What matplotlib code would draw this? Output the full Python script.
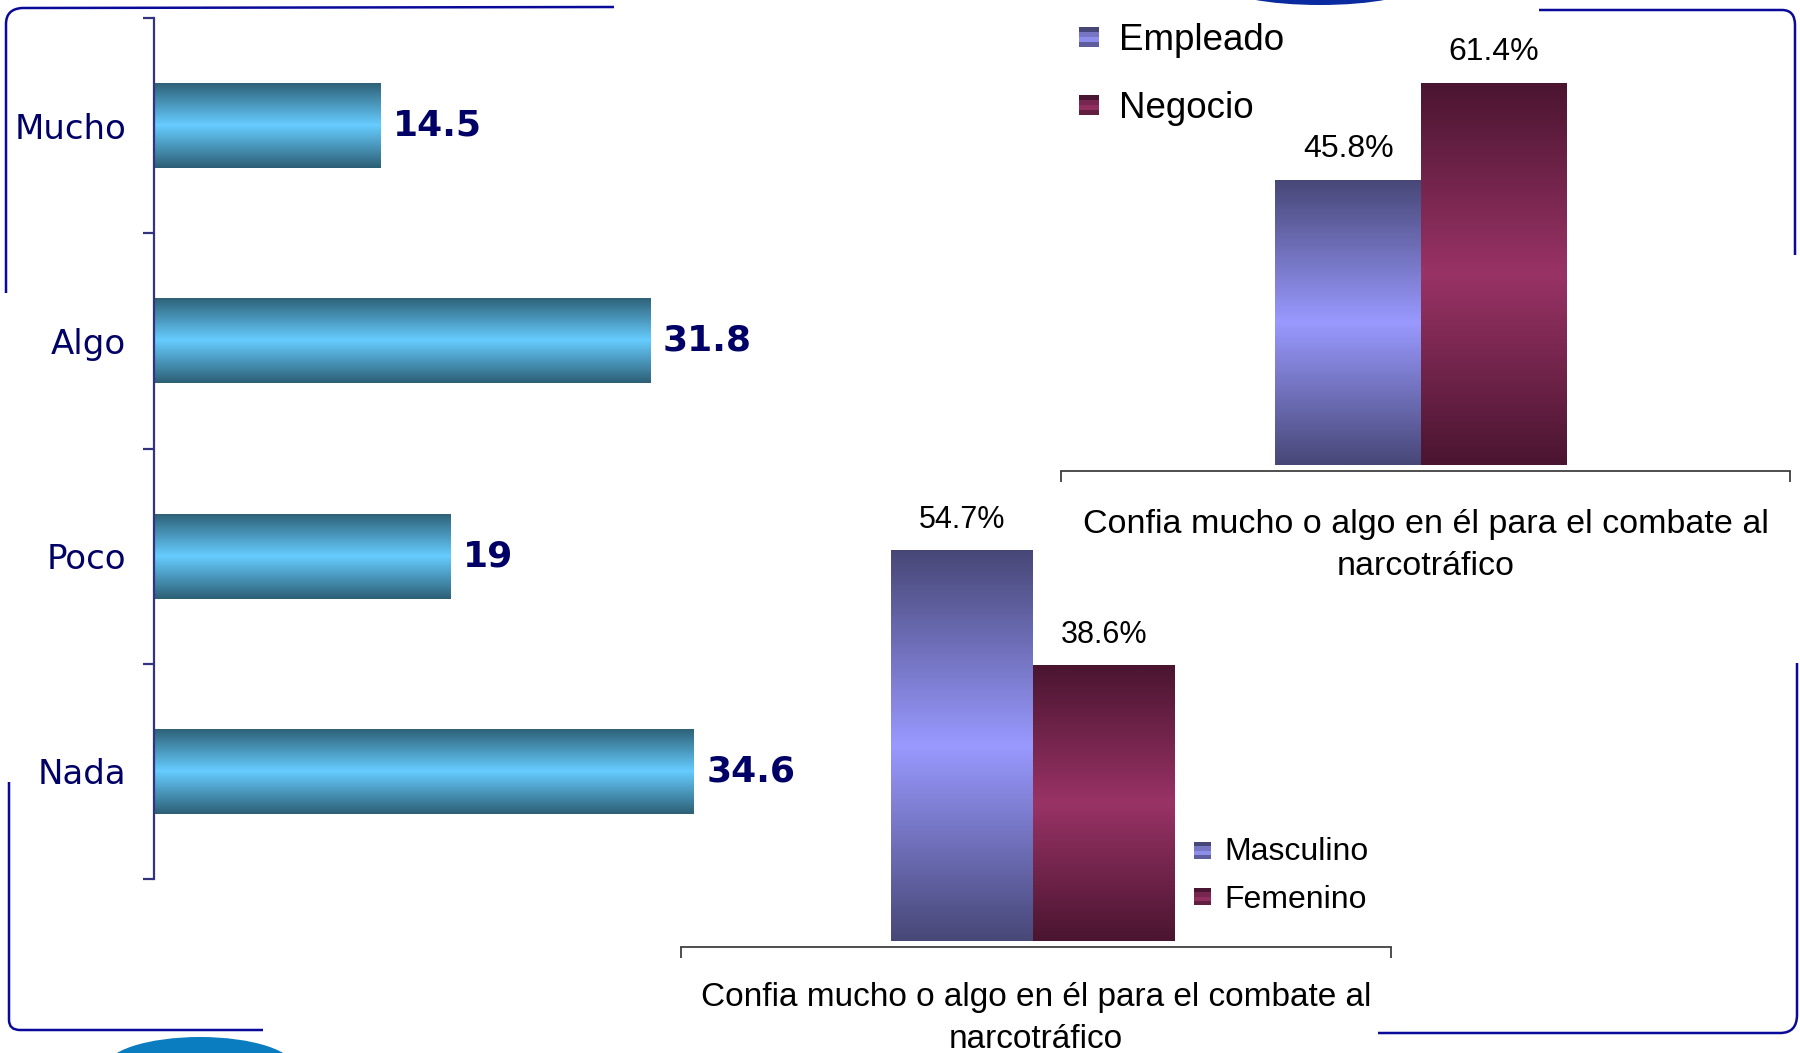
import numpy as np
import matplotlib
matplotlib.use('Agg')
import matplotlib.pyplot as plt
from matplotlib.patches import Rectangle, Ellipse, PathPatch
from matplotlib.path import Path
from matplotlib.colors import to_rgb

# ---------------- data ----------------
conf_cats = ['Mucho', 'Algo', 'Poco', 'Nada']
conf_vals = [14.5, 31.8, 19, 34.6]
conf_labels = ['14.5', '31.8', '19', '34.6']

ocup_series = ['Empleado', 'Negocio']
ocup_vals = [45.8, 61.4]
ocup_labels = ['45.8%', '61.4%']

sexo_series = ['Masculino', 'Femenino']
sexo_vals = [54.7, 38.6]
sexo_labels = ['54.7%', '38.6%']

group_label = 'Confia mucho o algo en él para el combate al\nnarcotráfico'

# ---------------- styles ----------------
NAVY = '#000066'
BLUE_EDGE, BLUE_MID = '#2d5f75', '#66ccff'
PURP_EDGE, PURP_MID = '#474777', '#9999ff'
WINE_EDGE, WINE_MID = '#4a1530', '#993366'
FRAME = '#0a0a9a'
ARIAL = ['Liberation Sans', 'DejaVu Sans']

W, H = 1800, 1053
fig = plt.figure(figsize=(18, 10.53), dpi=100)


def fx(x):
    return x / W


def fy(y):
    return 1 - y / H


def gradient(edge, mid, n=256):
    t = np.linspace(0, 1, n)
    w = 1 - np.abs(2 * t - 1)
    e = np.array(to_rgb(edge))
    m = np.array(to_rgb(mid))
    arr = e[None, :] * (1 - w[:, None]) + m[None, :] * w[:, None]
    return arr[:, None, :]


def fill_gradient(ax, bars, cols):
    for b, (edge, mid) in zip(bars, cols):
        x0, y0 = b.get_x(), b.get_y()
        w, h = b.get_width(), b.get_height()
        im = ax.imshow(gradient(edge, mid), extent=(x0, x0 + w, y0, y0 + h),
                       aspect='auto', origin='lower', interpolation='bilinear',
                       zorder=b.get_zorder() + 0.1)
        im.set_clip_path(b)


# ---------------- left chart ----------------
ax1 = fig.add_axes([fx(154), fy(879), 624 / W, (879 - 18) / H])
ax1.patch.set_visible(False)
ypos = np.arange(len(conf_cats))
bars1 = ax1.barh(ypos, conf_vals, height=0.395, color=BLUE_MID, zorder=2)
fill_gradient(ax1, bars1, [(BLUE_EDGE, BLUE_MID)] * len(conf_vals))
ax1.set_xlim(0, 40)
ax1.set_ylim(len(conf_cats) - 0.5, -0.5)
for sp in ['top', 'right', 'bottom']:
    ax1.spines[sp].set_visible(False)
ax1.spines['left'].set_color('#333380')
ax1.spines['left'].set_linewidth(1.6)
ax1.spines['left'].set_zorder(5)
ax1.set_xticks([])
ax1.set_yticks(np.arange(-0.5, len(conf_cats), 1.0))
ax1.set_yticklabels([])
ax1.set_yticks(ypos, labels=conf_cats, minor=True)
ax1.tick_params(axis='y', which='major', length=8, width=1.6, color='#333380', direction='out')
ax1.tick_params(axis='y', which='minor', length=0, pad=20, labelsize=24.5, labelcolor=NAVY)
for v, i, lab in zip(conf_vals, ypos, conf_labels):
    ax1.annotate(lab, xy=(v, i), xytext=(9, 0), textcoords='offset points',
                 ha='left', va='center', fontsize=26, fontweight='bold', color=NAVY,
                 annotation_clip=False)


# ---------------- grouped single-category charts ----------------
def group_chart(rect, vals, labels, cols, lab_size, cat_size, pad, off):
    ax = fig.add_axes(rect)
    ax.patch.set_visible(False)
    xs = [-0.1 + off, 0.1 + off]
    bars = ax.bar(xs, vals, width=0.2, color=[c[1] for c in cols], zorder=2)
    fill_gradient(ax, bars, cols)
    ax.set_xlim(-0.5, 0.5)
    ax.set_ylim(0, 70)
    for sp in ['top', 'right', 'left']:
        ax.spines[sp].set_visible(False)
    ax.spines['bottom'].set_position(('outward', 4))
    ax.spines['bottom'].set_color('#404040')
    ax.spines['bottom'].set_linewidth(1.3)
    ax.set_yticks([])
    ax.set_xticks([-0.5, 0.5])
    ax.set_xticklabels([])
    ax.set_xticks([0], labels=[group_label], minor=True)
    ax.tick_params(axis='x', which='major', length=8, width=1.3, color='#404040', direction='out')
    ax.tick_params(axis='x', which='minor', length=0, pad=pad)
    for t in ax.get_xticklabels(minor=True):
        t.set_fontfamily(ARIAL)
        t.set_fontsize(cat_size)
        t.set_linespacing(1.45)
        t.set_multialignment('center')
    for x, v, lab in zip(xs, vals, labels):
        ax.annotate(lab, xy=(x, v), xytext=(0, 11), textcoords='offset points',
                    ha='center', va='bottom', fontsize=lab_size, family=ARIAL, color='black',
                    annotation_clip=False)
    return ax


ax2 = group_chart([fx(1061), fy(465), 729 / W, 436 / H], ocup_vals, ocup_labels,
                  [(PURP_EDGE, PURP_MID), (WINE_EDGE, WINE_MID)], 23, 24.5, 28, -0.006)
ax3 = group_chart([fx(681), fy(941), 710 / W, 500 / H], sexo_vals, sexo_labels,
                  [(PURP_EDGE, PURP_MID), (WINE_EDGE, WINE_MID)], 22, 24, 25.5, -0.004)


# ---------------- legends (manual) ----------------
def legend_square(x0, y0, size, edge, mid):
    g = gradient(edge, mid, 8)[:, 0, :]
    stripes = [g[0], g[2], g[4], g[6]]
    n = len(stripes)
    for k, c in enumerate(stripes):
        yt = y0 + k * size / n
        fig.add_artist(Rectangle((fx(x0), fy(yt + size / n)), size / W, (size / n) / H,
                                 transform=fig.transFigure, facecolor=c, edgecolor='none'))


legend_square(1079, 27, 20, PURP_EDGE, PURP_MID)
legend_square(1079, 95, 20, WINE_EDGE, WINE_MID)
fig.text(fx(1119), fy(40), ocup_series[0], fontsize=26.5, family=ARIAL, va='center', ha='left')
fig.text(fx(1119), fy(109), ocup_series[1], fontsize=26.5, family=ARIAL, va='center', ha='left')

legend_square(1194, 842, 17, PURP_EDGE, PURP_MID)
legend_square(1194, 888, 17, WINE_EDGE, WINE_MID)
fig.text(fx(1224), fy(852), sexo_series[0], fontsize=23, family=ARIAL, va='center', ha='left')
fig.text(fx(1224), fy(900), sexo_series[1], fontsize=23, family=ARIAL, va='center', ha='left')


# ---------------- decorative frame ----------------
def frame(pts, codes):
    verts = [(fx(x), fy(y)) for x, y in pts]
    fig.add_artist(PathPatch(Path(verts, codes), transform=fig.transFigure,
                             fill=False, edgecolor=FRAME, linewidth=1.8))


M, L, C = Path.MOVETO, Path.LINETO, Path.CURVE3
frame([(6, 293), (6, 24), (6, 9), (22, 8), (614, 7)], [M, L, C, C, L])
frame([(9, 782), (9, 1020), (9, 1030), (20, 1030), (263, 1030)], [M, L, C, C, L])
frame([(1539, 10), (1782, 10), (1795, 10), (1795, 25), (1795, 255)], [M, L, C, C, L])
frame([(1797, 663), (1797, 1015), (1797, 1033), (1780, 1033), (1378, 1033)], [M, L, C, C, L])

fig.add_artist(Ellipse((fx(1320), fy(-14)), 190 / W, 38 / H, transform=fig.transFigure,
                       facecolor='#0a2aa0', edgecolor='none'))
fig.add_artist(Ellipse((fx(200), fy(1068)), 190 / W, 62 / H, transform=fig.transFigure,
                       facecolor='#0a7cc0', edgecolor='none'))

fig.savefig('out.png', dpi=100)
